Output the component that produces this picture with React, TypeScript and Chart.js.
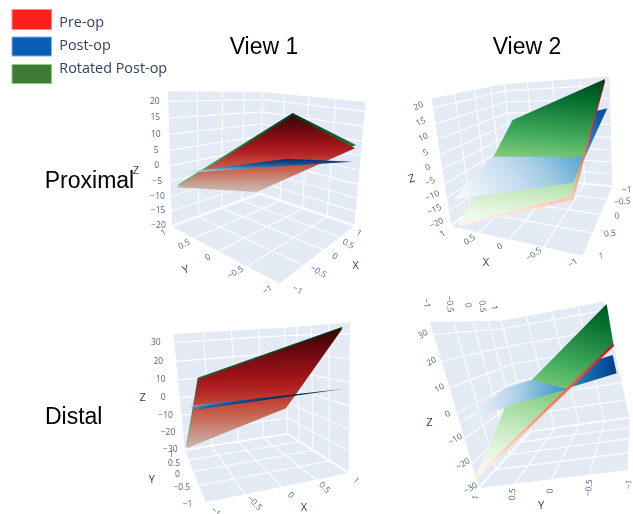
import React, { useEffect, useRef } from 'react';
import { Chart, registerables } from 'chart.js';
Chart.register(...registerables);

const proximalZTicks = [-20, -15, -10, -5, 0, 5, 10, 15, 20];
const distalZTicks = [-30, -20, -10, 0, 10, 20, 30];
const xyTicks = [-1, -0.5, 0, 0.5, 1];
const legendLabels = ['Pre-op', 'Post-op', 'Rotated Post-op'];
const legendColors = ['#FF1F1A', '#0A5FB4', '#3F7A36'];
const legendBorders = ['#FF8A80', '#7FB4E8', '#8FCB86'];

// Surface corners: x, y, z, colour value (surfacecolor)
const proxV1Green = [[-0.882,1,-6.84,-7.5],[0.714,0.111,17,17],[1,-0.9,8.38,6.2],[0.022,0.245,-9,-9]];
const proxV1Red = [[-0.895,1,-7.57,-7.9],[0.69,0.092,16,16],[1,-0.889,7.19,5.2],[0.002,0.226,-9.5,-9.5]];
const proxV1Blue = [[-0.86,1,-3.03,-3.4],[0.312,-0.094,2.5,2.5],[1,-0.87,2.43,2],[0.328,0.306,-2.5,-2.5]];
const proxV2BlueBack = [[0.857,1,-10.01,-10],[0.841,-1,1.77,-3],[-0.942,-1,11.24,10],[-0.865,0.794,-2,-2]];
const proxV2Red = [[0.831,1,-19.49,-18],[0.541,-0.395,9,9],[-0.921,-1,21.62,20],[-0.801,0.635,-9,-9]];
const proxV2Green = [[0.845,1,-18.82,-18],[0.596,-0.473,9.3,9.3],[-0.917,-1,22.24,20],[-0.777,0.618,-8,-8]];
const proxV2BlueFront = [[0.857,1,-10.01,-10],[1,-0.312,-5.44,-6],[-0.874,0.343,2,2],[-0.865,0.794,-2,-2]];
const distV1Green = [[-0.655,1,10.14,10],[1,-0.831,32.94,34],[0.618,0.156,-6,-6],[-0.966,1,-28.46,-29.5]];
const distV1Red = [[-0.646,1,9.18,9],[0.887,-1,32.26,33],[0.614,0.175,-7,-7],[-0.957,1,-29.51,-30]];
const distV1Blue = [[-0.882,0.669,-3,-3],[1,-0.838,6.59,4],[0.483,-0.388,3,3],[-0.805,0.065,-1,-1]];
const distV2Blue = [[-0.906,1,-3.49,-8],[0.446,1,-0.36,-2.6],[0.276,-1,8.06,11.5],[0.276,-1,-0.87,12]];
const distV2Green = [[-1,1.012,-26.2,-30],[0.283,1,-8.77,-11],[1,-1.023,33,34],[0.851,-1,11.89,18]];
const distV2BlueFront = [[-0.906,1,-3.49,-8],[0.446,1,-0.36,-2.6],[0.632,0.562,0.9,0.9],[-1,-0.489,2.78,5.6],[-0.674,0.499,-2.4,-2.4]];
const distV2Red = [[-1,1.021,-27.14,-30],[-1,1.035,-26.11,-29.9],[0.882,-1,12.17,32.6],[0.901,-1,10.68,32.1]];

const REDS = ['#fff5f0', '#fee0d2', '#fcbba1', '#fc9272', '#fb6a4a', '#ef3b2c', '#cb181d', '#a50f15', '#67000d'];
const GREENS = ['#f7fcf5', '#e5f5e0', '#c7e9c0', '#a1d99b', '#74c476', '#41ab5d', '#238b45', '#006d2c', '#00441b'];
const BLUES = ['#f7fbff', '#deebf7', '#c6dbef', '#9ecae1', '#6baed6', '#4292c6', '#2171b5', '#08519c', '#08306b'];
const REDS_DARK = ['#c9bcb5', '#c99a8c', '#c8705e', '#c24a3c', '#b32323', '#9c1218', '#7c0c12', '#55070c', '#3a0408'];
const GREENS_DARK = ['#8fb88f', '#6aa570', '#4f8f55', '#2f7a40', '#1a6030', '#0e4a25', '#063018'];
const BLUES_DARK = ['#c9dcec', '#6aa0c8', '#2a70a8', '#0f5090', '#063a70', '#042a58'];

type V = number[];
const sceneDefs: any[] = [
  {
    zr: [-20.5, 23], zTicks: proximalZTicks, walls: [['y', 1], ['x', 1]],
    cube: [[-1,1,0,171.7,226.7],[-1,1,1,168.3,90.7],[-1,-1,0,278.3,285],[1,-1,0,355,225],[1,-1,1,366.7,103],[1,1,1,261.7,91.7],[1,1,0,260,195]],
    surfaces: [
      { c: GREENS_DARK, r: [-9, 17], pts: proxV1Green },
      { c: REDS_DARK, r: [-9.5, 16.5], pts: proxV1Red },
      { c: BLUES_DARK, r: [-3.4, 3], pts: proxV1Blue },
    ],
    axes: [
      { a: 'z', fix: [-1, 1], off: [[-13, 0], [-13, 0]], rot: 0 },
      { a: 'y', fix: [-1, 'min'], off: [[-12, 6], [-8, 6]], rot: -30 },
      { a: 'x', fix: [-1, 'min'], off: [[18, 6], [4, 7]], rot: 30 },
    ],
    titles: [['Y', 185.7, 270, -20], ['X', 355.7, 266, 0], ['Z', 136, 171, 0]],
  },
  {
    zr: [-20.5, 23], zTicks: proximalZTicks, walls: [['x', 1], ['y', -1]],
    cube: [[1,1,0,455,231.7],[1,1,1,428.3,96],[-1,1,0,580.7,252.7],[-1,-1,0,615,190.7],[-1,-1,1,609.3,75],[1,-1,0,510,172],[1,-1,1,507,87]],
    surfaces: [
      { c: BLUES, r: [-10, 10], pts: proxV2BlueBack },
      { c: REDS, r: [-18, 24], pts: proxV2Red },
      { c: GREENS, r: [-18, 20], pts: proxV2Green },
      { c: BLUES, r: [-10, 10], pts: proxV2BlueFront },
    ],
    axes: [
      { a: 'z', fix: [1, 1], off: [[-14, -2], [-14, -2]], rot: -25 },
      { a: 'x', fix: [1, 'min'], off: [[-10, 7], [-8, 7]], rot: -35 },
      { a: 'y', fix: [-1, 'min'], off: [[14, 3], [18, 0]], rot: -5 },
    ],
    titles: [['X', 486, 263, 0], ['Z', 411.7, 179, -15]],
  },
  {
    zr: [-30.5, 34.5], zTicks: distalZTicks, walls: [['y', 1], ['x', 1]],
    cube: [[-1,1,0,185,450],[-1,1,1,172.7,334],[-1,-1,0,205,503.3],[1,-1,0,350,472.7],[1,-1,1,350,322.7],[1,1,1,285,327.3],[1,1,0,286.7,435]],
    surfaces: [
      { c: GREENS_DARK, r: [-30, 34], pts: distV1Green },
      { c: REDS_DARK, r: [-30, 34], pts: distV1Red },
      { c: BLUES_DARK, r: [-3.5, 2], pts: distV1Blue },
    ],
    axes: [
      { a: 'z', fix: [-1, 1], off: [[-14, 0], [-18, 0]], rot: 0 },
      { a: 'y', fix: [-1, 'min'], off: [[-18, 2], [-13, 4]], rot: 0 },
      { a: 'x', fix: [-1, 'min'], off: [[10, 9], [7, 7]], rot: 45 },
    ],
    titles: [['Y', 151.7, 480, 0], ['X', 304, 508, 0], ['Z', 142.7, 398, 0]],
  },
  {
    zr: [-30.5, 34.5], zTicks: distalZTicks, walls: [['y', 1], ['x', 1]],
    cube: [[-1,1,0,469.3,486.7],[-1,1,1,436,322.7],[1,1,0,540,431.7],[1,1,1,493.3,321.7],[1,-1,0,624.3,418.3],[1,-1,1,608.3,300],[-1,-1,0,631.7,471.7]],
    surfaces: [
      { c: BLUES, r: [-8, 13], pts: distV2Blue },
      { c: GREENS, r: [-30, 34], pts: distV2Green },
      { c: BLUES, r: [-8, 13], pts: distV2BlueFront },
      { c: REDS, r: [-30, 50], pts: distV2Red },
    ],
    axes: [
      { a: 'z', fix: [-1, 1], off: [[-8, 1], [-10, 0]], rot: -30 },
      { a: 'y', fix: [-1, 'min'], off: [[1, 14], [-3, 9]], rot: -85 },
      { a: 'x', fix: [1, 'max'], off: [[-3, -19], [-7, -13]], rot: 85 },
    ],
    titles: [['Y', 541, 506, 0], ['Z', 429.3, 422.7, 0]],
  },
];

function solveLinear(A: number[][], b: number[]) {
  const n = b.length;
  const M = A.map((r, i) => [...r, b[i]]);
  for (let i = 0; i < n; i++) {
    let p = i;
    for (let k = i + 1; k < n; k++) if (Math.abs(M[k][i]) > Math.abs(M[p][i])) p = k;
    [M[i], M[p]] = [M[p], M[i]];
    for (let k = 0; k < n; k++) {
      if (k === i) continue;
      const f = M[k][i] / M[i][i];
      for (let j = i; j <= n; j++) M[k][j] -= f * M[i][j];
    }
  }
  return M.map((r, i) => r[n] / r[i]);
}

function makeCamera(s: any) {
  const S = 500;
  const rows: number[][] = [], rhs: number[] = [];
  for (const [x, y, n, u0, v0] of s.cube) {
    const z = n * 2 - 1, u = u0 / S, v = v0 / S;
    rows.push([x, y, z, 1, 0, 0, 0, 0, -u * x, -u * y, -u * z]); rhs.push(u);
    rows.push([0, 0, 0, 0, x, y, z, 1, -v * x, -v * y, -v * z]); rhs.push(v);
  }
  const N = Array.from({ length: 11 }, (_, i) => Array.from({ length: 11 }, (_, j) => rows.reduce((a, r) => a + r[i] * r[j], 0)));
  const c = Array.from({ length: 11 }, (_, i) => rows.reduce((a, r, k) => a + r[i] * rhs[k], 0));
  const p = solveLinear(N, c);
  const nz = (z: number) => ((z - s.zr[0]) / (s.zr[1] - s.zr[0])) * 2 - 1;
  const project = (x: number, y: number, zv: number) => {
    const z = nz(zv), w = p[8] * x + p[9] * y + p[10] * z + 1;
    return { x: (S * (p[0] * x + p[1] * y + p[2] * z + p[3])) / w, y: (S * (p[4] * x + p[5] * y + p[6] * z + p[7])) / w };
  };
  return { project };
}

const PLANE = '#E3EAF4';
function gridSegments(s: any, cam: any) {
  const [z0, z1] = s.zr;
  const pts: any[] = [];
  const seg = (a: V, b: V) => { pts.push(cam.project(a[0], a[1], a[2]), cam.project(b[0], b[1], b[2]), { x: NaN, y: NaN }); };
  for (const t of xyTicks) { seg([t, -1, z0], [t, 1, z0]); seg([-1, t, z0], [1, t, z0]); }
  for (const [ax, val] of s.walls) {
    const P = (t: number, z: number) => (ax === 'x' ? [val, t, z] : [t, val, z]);
    for (const t of xyTicks) seg(P(t, z0), P(t, z1));
    for (const z of s.zTicks) seg(P(-1, z), P(1, z));
  }
  return pts;
}

function buildDatasets() {
  const ds: any[] = [];
  for (const s of sceneDefs) {
    const cam = makeCamera(s);
    s.cam = cam;
    const [z0, z1] = s.zr;
    ds.push({ poly: PLANE, data: [[-1,-1],[1,-1],[1,1],[-1,1]].map((q) => cam.project(q[0], q[1], z0)) });
    for (const [ax, val] of s.walls) {
      const P = (t: number, z: number) => (ax === 'x' ? cam.project(val, t, z) : cam.project(t, val, z));
      ds.push({ poly: PLANE, data: [P(-1, z0), P(1, z0), P(1, z1), P(-1, z1)] });
    }
    ds.push({ grid: true, data: gridSegments(s, cam) });
    for (const f of s.surfaces) {
      ds.push({ surface: f, zs: f.pts.map((q: V) => q[3]), data: f.pts.map((q: V) => cam.project(q[0], q[1], q[2])) });
    }
  }
  const n = ds.length;
  return ds.map((d, i) => ({
    ...d, type: 'line', order: n - i, pointRadius: 0, clip: false, fill: false, tension: 0, spanGaps: false,
    borderColor: d.grid ? 'rgba(255,255,255,0.95)' : 'transparent', borderWidth: d.grid ? 1.1 : 0,
  }));
}

function surfaceFill(ctx: CanvasRenderingContext2D, pts: any[], zs: number[], f: any) {
  const mx = pts.reduce((a, p) => a + p.x, 0) / pts.length, my = pts.reduce((a, p) => a + p.y, 0) / pts.length;
  const mz = zs.reduce((a, z) => a + z, 0) / zs.length;
  let sxx = 1e-6, sxy = 0, syy = 1e-6, sxz = 0, syz = 0;
  pts.forEach((p, i) => {
    const dx = p.x - mx, dy = p.y - my, dz = zs[i] - mz;
    sxx += dx * dx; sxy += dx * dy; syy += dy * dy; sxz += dx * dz; syz += dy * dz;
  });
  const det = sxx * syy - sxy * sxy;
  const a = (sxz * syy - syz * sxy) / det, b = (syz * sxx - sxz * sxy) / det;
  const g2 = a * a + b * b;
  const [c0, c1] = f.r;
  const g = ctx.createLinearGradient(mx + ((c0 - mz) * a) / g2, my + ((c0 - mz) * b) / g2, mx + ((c1 - mz) * a) / g2, my + ((c1 - mz) * b) / g2);
  f.c.forEach((col: string, i: number) => g.addColorStop(i / (f.c.length - 1), col));
  return g;
}

const polygonPlugin = {
  id: 'polygonFill',
  beforeDatasetDraw(chart: any, args: any) {
    const d = chart.data.datasets[args.index];
    if (!d.poly && !d.surface) return;
    const pts = args.meta.data, ctx = chart.ctx;
    ctx.save();
    ctx.beginPath();
    pts.forEach((p: any, i: number) => (i ? ctx.lineTo(p.x, p.y) : ctx.moveTo(p.x, p.y)));
    ctx.closePath();
    ctx.fillStyle = d.poly || surfaceFill(ctx, pts, d.zs, d.surface);
    ctx.fill();
    ctx.restore();
  },
};

const fmt = (t: number) => (t < 0 ? '\u2212' : '') + String(Math.abs(t));
function text(ctx: any, s: string, x: number, y: number, rot: number, font: string, color: string, align = 'center') {
  ctx.save();
  ctx.translate(x, y);
  ctx.rotate((rot * Math.PI) / 180);
  ctx.font = font;
  ctx.fillStyle = color;
  ctx.textAlign = align;
  ctx.textBaseline = 'middle';
  ctx.fillText(s, 0, 0);
  ctx.restore();
}

const annotationPlugin = {
  id: 'annotations',
  afterDraw(chart: any) {
    const ctx = chart.ctx, sx = chart.scales.x, sy = chart.scales.y;
    const tickFont = '8.5px "Open Sans"', titleFont = '11px "Open Sans"';
    for (const s of sceneDefs) {
      for (const ax of s.axes) {
        const ticks = ax.a === 'z' ? s.zTicks : xyTicks;
        ticks.forEach((t: number) => {
          const f = ax.fix.map((v: any) => (v === 'min' ? s.zr[0] : v === 'max' ? s.zr[1] : v));
          const p = ax.a === 'z' ? s.cam.project(f[0], f[1], t) : ax.a === 'x' ? s.cam.project(t, f[0], f[1]) : s.cam.project(f[0], t, f[1]);
          const k = (t - ticks[0]) / (ticks[ticks.length - 1] - ticks[0]);
          const ox = ax.off[0][0] + (ax.off[1][0] - ax.off[0][0]) * k, oy = ax.off[0][1] + (ax.off[1][1] - ax.off[0][1]) * k;
          text(ctx, fmt(t), sx.getPixelForValue(p.x + ox), sy.getPixelForValue(p.y + oy), ax.rot, tickFont, '#506784');
        });
      }
      for (const [l, x, y, r] of s.titles) text(ctx, l, x, y, r, titleFont, '#2a3f5f');
    }
    const big = '23px "Liberation Sans"';
    text(ctx, 'View 1', 264, 48, 0, big, '#000');
    text(ctx, 'View 2', 527, 48, 0, big, '#000');
    text(ctx, 'Proximal', 89.5, 182, 0, big, '#000');
    text(ctx, 'Distal', 73.7, 418, 0, big, '#000');
    const boxes = [[9.5, 20], [37, 19], [64.5, 19]];
    const textY = [22.5, 45.5, 68.5];
    legendLabels.forEach((l, i) => {
      ctx.fillStyle = legendColors[i];
      ctx.strokeStyle = legendBorders[i];
      ctx.lineWidth = 1;
      ctx.fillRect(12, boxes[i][0], 39.5, boxes[i][1]);
      ctx.strokeRect(12, boxes[i][0], 39.5, boxes[i][1]);
      text(ctx, l, 59.3, textY[i], 0, '14.4px "Open Sans"', '#33415f', 'left');
    });
  },
};

export default function App() {
  const ref = useRef<HTMLCanvasElement>(null);
  useEffect(() => {
    document.body.style.margin = '0';
    const chart = new Chart(ref.current as any, {
      type: 'line',
      data: { datasets: buildDatasets() as any },
      plugins: [polygonPlugin, annotationPlugin],
      options: {
        animation: false, responsive: false,
        layout: { padding: 0 },
        plugins: { legend: { display: false }, tooltip: { enabled: false } },
        scales: {
          x: { type: 'linear', min: 0, max: 633, display: false },
          y: { type: 'linear', min: 0, max: 514, reverse: true, display: false },
        },
      },
    } as any);
    return () => chart.destroy();
  }, []);
  return <canvas ref={ref} width={633} height={514} style={{ position: 'absolute', left: 0, top: 0, width: 633, height: 514, filter: 'blur(0.45px)' }} />;
}
